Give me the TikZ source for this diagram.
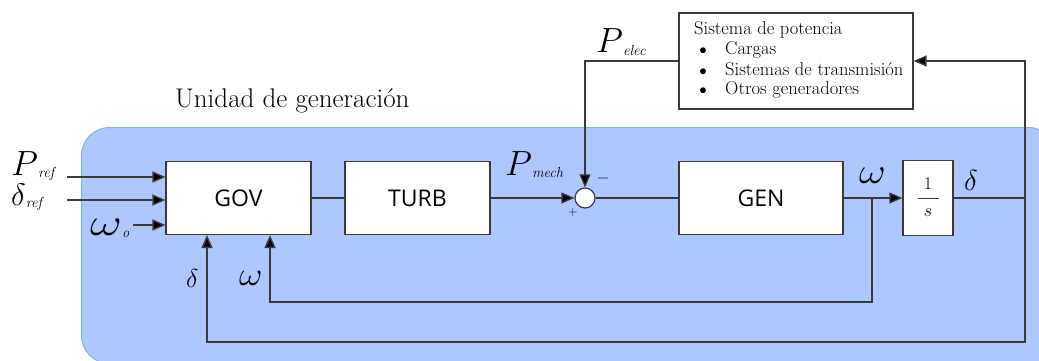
\RequirePackage{fix-cm}
\documentclass[tikz,border=0pt]{standalone}
\usepackage{fontspec}
\newfontfamily\boxfont{Open Sans}
\usetikzlibrary{arrows.meta,calc}
\definecolor{linecol}{HTML}{3A3A3A}
\definecolor{bluefill}{HTML}{ADC8FF}
\definecolor{blueedge}{HTML}{86AEF7}
\newcommand{\mysub}[1]{\raisebox{-2pt}{\fontsize{14.5}{14.5}\selectfont\itshape #1}}
\newcommand{\wideom}[1]{\scalebox{#1}[1]{$\omega$}}
\begin{document}
\begin{tikzpicture}[x=1pt,y=-1pt,
  ln/.style={draw=linecol,line width=1.4pt},
  arr/.style={ln,-{Triangle[length=13pt,width=11pt,fill=black]}},
  blk/.style={draw=linecol,fill=white,line width=1.2pt,inner sep=0pt,minimum height=73pt,font=\boxfont\fontsize{23}{23}\selectfont},
  lbl/.style={inner sep=0pt,anchor=base west},
  systx/.style={inner sep=0pt,anchor=base west,font=\fontsize{18.5}{18.5}\selectfont},
  bul/.style={inner sep=0pt,anchor=base,font=\fontsize{15}{15}\selectfont}]
\useasboundingbox (0,0) rectangle (1039,361);
\begin{scope}
\clip (0,0) rectangle (1039,361);
\node[draw=blueedge,fill=bluefill,line width=1pt,rounded corners=28pt,minimum width=975pt,minimum height=236pt,anchor=north west,inner sep=0pt] (unit) at (81,127) {};
\end{scope}
\node[lbl] (unitlbl) at (175,107) {\fontsize{27}{27}\selectfont Unidad de generación};
% blocks
\node[blk,minimum width=145pt] (gov) at (238.5,198) {GOV};
\node[blk,minimum width=145pt] (turb) at (417.5,198) {TURB};
\node[blk,minimum width=164pt] (gen) at (761,198) {GEN};
\node[blk,minimum width=50pt,minimum height=75pt] (int) at (928,198) {};
\node[inner sep=0pt] (one) at (928,184) {\fontsize{18}{18}\selectfont$1$};
\node[inner sep=0pt] (s) at (928,213) {\fontsize{18}{18}\selectfont$s$};
\draw[draw=linecol,line width=1pt] (918,198.5) -- (939,198.5);
\node[circle,draw=linecol,fill=white,line width=1.2pt,minimum size=20pt,inner sep=0pt] (sum) at (585,198) {};
\node[draw=linecol,fill=white,line width=1.2pt,minimum width=234pt,minimum height=96pt,inner sep=0pt] (sys) at (796,61) {};
\node[systx] (st0) at (694,35) {Sistema de potencia};
\node[bul] (b1) at (703,55) {$\bullet$};
\node[systx] (st1) at (725,55) {Cargas};
\node[bul] (b2) at (703,75) {$\bullet$};
\node[systx] (st2) at (725,75) {Sistemas de transmisión};
\node[bul] (b3) at (703,95) {$\bullet$};
\node[systx] (st3) at (725,95) {Otros generadores};
% coordinates
\coordinate (inP) at (67,177);
\coordinate (inD) at (67,200);
\coordinate (inW) at (133,225);
\coordinate (dR) at (1025,198);
\coordinate (dB) at (207,342);
\coordinate (br) at (872,198);
\coordinate (wB) at (270,302);
% connectors
\draw[arr] (inP) -- (inP -| gov.west);
\draw[arr] (inD) -- (inD -| gov.west);
\draw[arr] (inW) -- (inW -| gov.west);
\draw[ln] (gov) -- (turb);
\draw[arr] (turb) -- (sum);
\draw[ln] (sum) -- (gen);
\draw[arr] (gen) -- (int);
\draw[ln] (int) -- (dR);
\draw[arr] (dR) |- (sys.east);
\draw[arr] (dR) |- (dB) -- (dB |- gov.south);
\draw[arr] (br) |- (wB) -- (wB |- gov.south);
\draw[arr,line width=1.2pt] (sys.west) -| (sum.north);
% labels
\node[lbl] (lPref) at (11,175) {\fontsize{35}{35}\selectfont$P$\mysub{ref}};
\node[lbl] (lDref) at (11,205) {\fontsize{31}{31}\selectfont$\delta$\mysub{ref}};
\node[lbl] (lWo) at (90,235) {\fontsize{38}{38}\selectfont\wideom{1.3}\mysub{o}};
\node[lbl] (lPm) at (505,175) {\fontsize{35}{35}\selectfont$P$\mysub{mech}};
\node[lbl] (lPe) at (596,53) {\fontsize{35}{35}\selectfont$P$\mysub{elec}};
\node[lbl] (lW1) at (859,183) {\fontsize{36}{36}\selectfont\wideom{1.15}};
\node[lbl] (lD1) at (964,190) {\fontsize{29}{29}\selectfont$\delta$};
\node[lbl] (lW2) at (239,285) {\fontsize{33}{33}\selectfont\wideom{1.1}};
\node[lbl] (lD2) at (186,287) {\fontsize{26}{26}\selectfont$\delta$};
\node[inner sep=0pt] (minus) at (603,178) {\fontsize{16}{16}\selectfont$-$};
\node[inner sep=0pt] (plus) at (573,212) {\fontsize{12}{12}\selectfont$+$};
\end{tikzpicture}
\end{document}
